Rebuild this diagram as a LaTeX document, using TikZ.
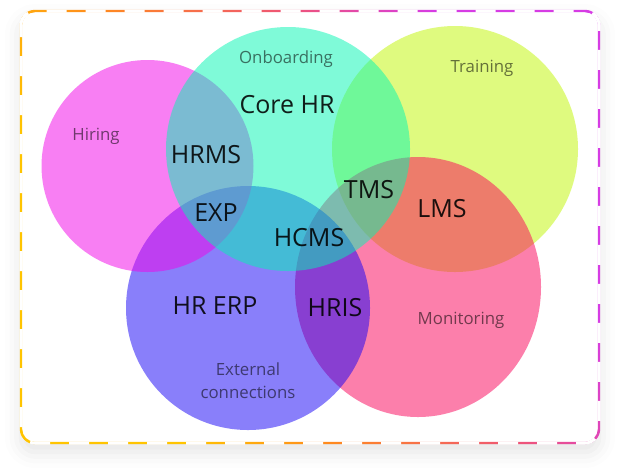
\documentclass[tikz,border=0pt]{standalone}
\usepackage{fontspec}
\setmainfont{Open Sans}
\usetikzlibrary{shadows.blur}

\definecolor{hirecol}{RGB}{243,0,233}
\definecolor{onbcol}{RGB}{0,247,179}
\definecolor{traincol}{RGB}{193,247,0}
\definecolor{moncol}{RGB}{251,0,89}
\definecolor{extcol}{RGB}{21,0,247}
\definecolor{rimyellow}{RGB}{255,196,0}
\definecolor{rimorange}{RGB}{255,138,30}
\definecolor{rimred}{RGB}{238,84,120}
\definecolor{rimmagenta}{RGB}{214,60,228}

\pgfdeclarehorizontalshading{rimshade}{100bp}{color(0bp)=(rimyellow); color(30bp)=(rimyellow);
  color(42bp)=(rimorange); color(58bp)=(rimred); color(70bp)=(rimmagenta); color(100bp)=(rimmagenta)}

\tikzset{
  blob/.style     = {fill opacity=0.5},
  bigtag/.style   = {font=\fontsize{25}{29}\selectfont, text=black,
                     text opacity=0.88, inner sep=0pt},
  smalltag/.style = {font=\fontsize{16.8}{23}\selectfont, text=black,
                     text opacity=0.55, align=center, inner sep=0pt}
}

\begin{document}
\begin{tikzpicture}[x=1pt, y=-1pt]
  \useasboundingbox (0,0) rectangle (620,475);

  % card
  \fill[white, rounded corners=14pt,
        blur shadow={shadow xshift=0pt, shadow yshift=-9pt,
                     shadow blur radius=16pt, shadow opacity=11}]
    (21,11) rectangle (599,443);

  % circles, from bottom to top
  \fill[blob, traincol] (455,149) circle [radius=123];
  \fill[blob, moncol]   (418,287) ellipse [x radius=123, y radius=130];
  \fill[blob, extcol]   (248,308) circle [radius=122];
  \fill[blob, hirecol]  (147.5,166) circle [radius=106];
  \fill[blob, onbcol]   (288,149) circle [radius=122];

  % outer labels
  \node[smalltag] (onboarding) at (286,59)  {Onboarding};
  \node[smalltag] (training)   at (482,68)  {Training};
  \node[smalltag] (hiring)     at (96,136)  {Hiring};
  \node[smalltag] (monitoring) at (461,320) {Monitoring};
  \node[smalltag] (external)   at (248,381) {External\\connections};

  % system labels
  \node[bigtag] (corehr) at (287,105) {Core HR};
  \node[bigtag] (hrms)   at (206,155) {HRMS};
  \node[bigtag] (exp)    at (216,213) {EXP};
  \node[bigtag] (hcms)   at (309,238) {HCMS};
  \node[bigtag] (tms)    at (369,190) {TMS};
  \node[bigtag] (lms)    at (442,209) {LMS};
  \node[bigtag] (hris)   at (335,308) {HRIS};
  \node[bigtag] (hrerp)  at (215,306) {HR ERP};

  % dashed rim
  \shade[shading=rimshade, shading angle=28, even odd rule]
    (19.8,9.8) [rounded corners=15.2pt] rectangle (600.2,444.2)
    (22.2,12.2) [rounded corners=12.8pt] rectangle (597.8,441.8);
  \draw[white, line width=3pt, rounded corners=14pt,
        dash pattern=on 20pt off 19pt, dash phase=8pt]
    (21,11) rectangle (599,443);
\end{tikzpicture}
\end{document}
